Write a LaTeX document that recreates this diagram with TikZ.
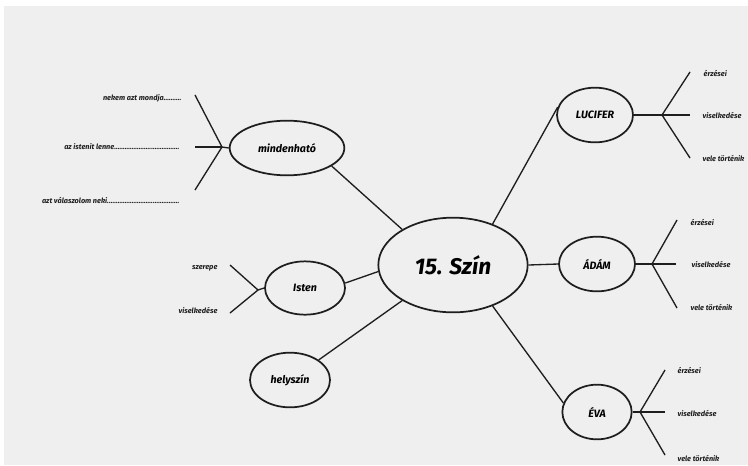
\documentclass[tikz,border=0pt]{standalone}
\usepackage{fontspec}
\setmainfont{Fira Sans}
\usetikzlibrary{shapes.geometric}
\definecolor{papir}{HTML}{EFEFEF}
\definecolor{tinta}{HTML}{1E1E1E}
\tikzset{
  tema/.style={ellipse,draw=tinta,line width=1.3pt,inner sep=0pt,font=\fontsize{8}{9}\selectfont\bfseries\itshape},
  ag/.style={draw=tinta,line width=1pt},
  cimke/.style={font=\fontsize{5.5}{6}\selectfont\bfseries\itshape,text=tinta,inner sep=1pt}
}
\begin{document}
\begin{tikzpicture}[x=0.75pt,y=-0.75pt]
\useasboundingbox (0,0) rectangle (748,465);
\fill[white] (0,0) rectangle (748,465);
\fill[papir] (4,6) rectangle (748,465);
% kozepso
\node[tema,minimum width=112pt,minimum height=71pt,font=\fontsize{17}{20}\selectfont\bfseries\itshape] (szin) at (453,265) {15. Szín};
% bal oldal
\node[tema,minimum width=86pt,minimum height=41pt] (mind) at (287,148) {mindenható};
\node[tema,minimum width=60pt,minimum height=40pt] (isten) at (305,288) {Isten};
\node[tema,minimum width=60pt,minimum height=41pt] (hely) at (290,380) {helyszín};
% jobb oldal
\node[tema,minimum width=57pt,minimum height=41pt] (lucifer) at (595,115) {LUCIFER};
\node[tema,minimum width=57pt,minimum height=41pt] (adam) at (597,264) {ÁDÁM};
\node[tema,minimum width=52pt,minimum height=41pt] (eva) at (597,412) {ÉVA};
% agak a kozepbol
\draw[ag] (szin.145) -- (mind.-22);
\draw[ag] (szin.185) -- (isten.7);
\draw[ag] (szin.215) -- (hely.35);
\draw[ag] (szin.46) -- (lucifer.168);
\draw[ag] (szin.east) -- (adam.west);
\draw[ag] (szin.-46) -- (eva.165);
% mindenhato
\coordinate (mj) at (222,147);
\coordinate (m1) at (195,95);
\coordinate (m2) at (195,147);
\coordinate (m3) at (195,190);
\draw[ag] (mind.west) -- (mj);
\draw[ag] (mj) -- (m1);
\draw[ag] (mj) -- (m2);
\draw[ag] (mj) -- (m3);
\node[cimke,anchor=east] (mc1) at (183,98) {nekem azt mondja..........};
\node[cimke,anchor=east] (mc2) at (181,147) {az istenit lenne.....................................};
\node[cimke,anchor=east] (mc3) at (181,200) {azt válaszolom neki.........................................};
% isten
\coordinate (ij) at (258,290);
\coordinate (i1) at (230,265);
\coordinate (i2) at (230,313);
\draw[ag] (isten.west) -- (ij);
\draw[ag] (ij) -- (i1);
\draw[ag] (ij) -- (i2);
\node[cimke,anchor=east] (ic1) at (219,268) {szerepe};
\node[cimke,anchor=east] (ic2) at (219,310) {viselkedése};
% lucifer
\coordinate (lj) at (662,115);
\coordinate (l1) at (690,72);
\coordinate (l2) at (690,115);
\coordinate (l3) at (690,158);
\draw[ag] (lucifer.east) -- (lj);
\draw[ag] (lj) -- (l1);
\draw[ag] (lj) -- (l2);
\draw[ag] (lj) -- (l3);
\node[cimke,anchor=west] (lc1) at (702,73) {érzései};
\node[cimke,anchor=west] (lc2) at (701,115) {viselkedése};
\node[cimke,anchor=west] (lc3) at (701,158) {vele történik};
% adam
\coordinate (aj) at (652,264);
\coordinate (a1) at (677,220);
\coordinate (a2) at (676,264);
\coordinate (a3) at (677,308);
\draw[ag] (adam.east) -- (aj);
\draw[ag] (aj) -- (a1);
\draw[ag] (aj) -- (a2);
\draw[ag] (aj) -- (a3);
\node[cimke,anchor=west] (ac1) at (689,222) {érzései};
\node[cimke,anchor=west] (ac2) at (690,264) {viselkedése};
\node[cimke,anchor=west] (ac3) at (689,307) {vele történik};
% eva
\coordinate (ej) at (640,412);
\coordinate (e1) at (665,370);
\coordinate (e2) at (665,412);
\coordinate (e3) at (665,455);
\draw[ag] (eva.east) -- (ej);
\draw[ag] (ej) -- (e1);
\draw[ag] (ej) -- (e2);
\draw[ag] (ej) -- (e3);
\node[cimke,anchor=west] (ec1) at (676,370) {érzései};
\node[cimke,anchor=west] (ec2) at (676,413) {viselkedése};
\node[cimke,anchor=west] (ec3) at (676,458) {vele történik};
\end{tikzpicture}
\end{document}
